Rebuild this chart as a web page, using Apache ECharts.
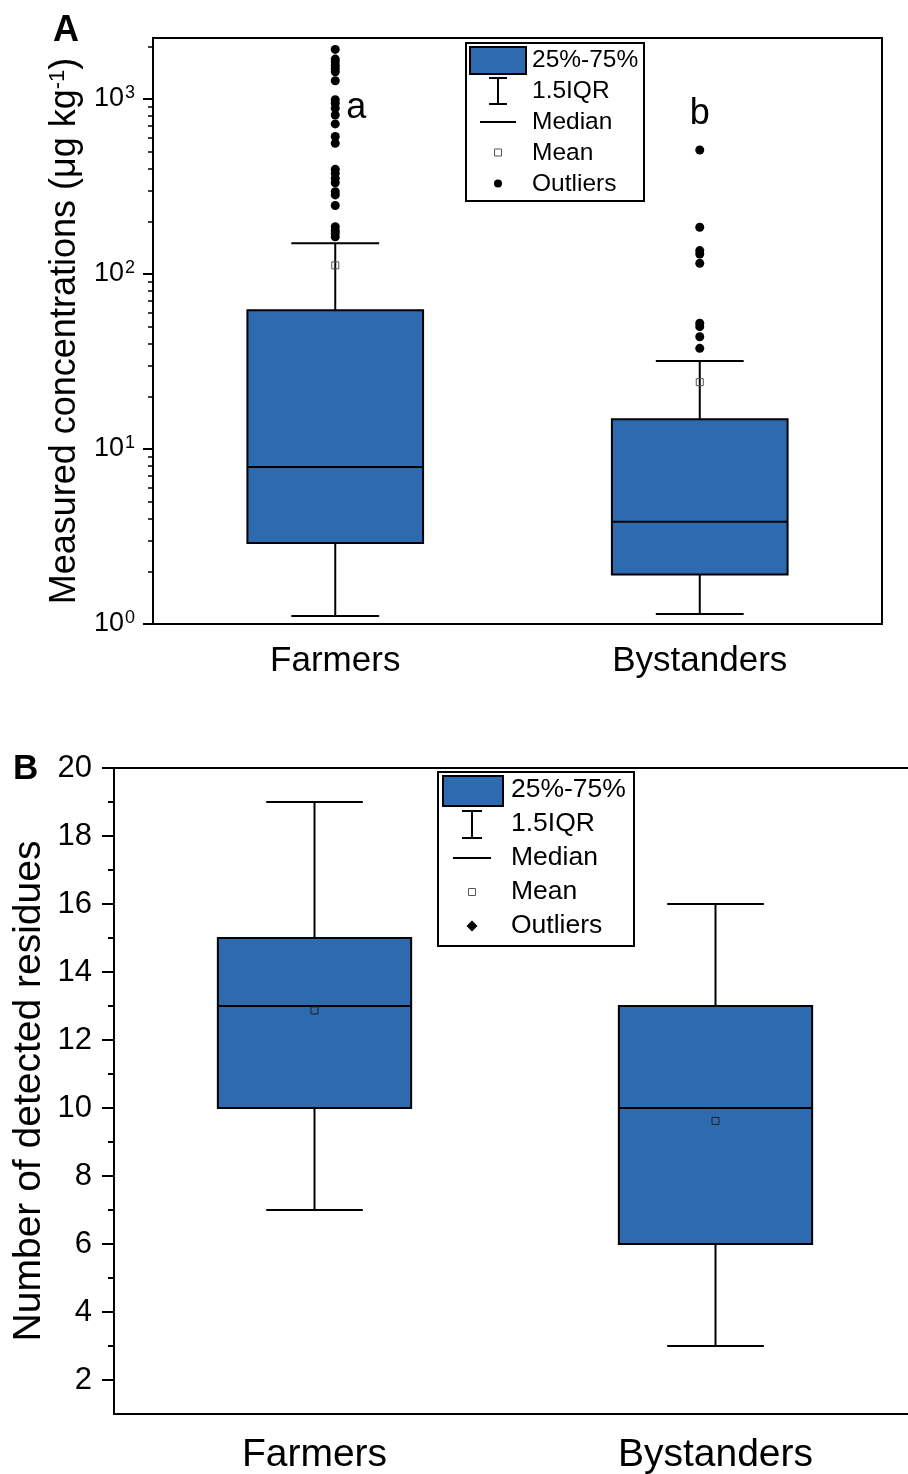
<!DOCTYPE html>
<html>
<head>
<meta charset="utf-8">
<script src="https://cdn.jsdelivr.net/npm/echarts@6/dist/echarts.min.js"></script>
<style>
html,body{margin:0;padding:0;background:#fff;}
#chart{width:908px;height:1474px;}
</style>
</head>
<body>
<div id="chart"></div>
<script>
// ---------- data ----------
const categories = ['Farmers', 'Bystanders'];

// Panel A: measured concentrations (µg kg-1), [lower whisker, Q1, median, Q3, upper whisker]
const concBoxFarmers = [1.11, 2.9, 7.9, 62, 150];
const concBoxBystanders = [1.14, 1.92, 3.84, 14.8, 31.8];
const concMeans = [112, 24.1];
const concOutliersFarmers = [1920, 1690, 1630, 1560, 1500, 1430, 1270, 990, 945, 885, 810, 720, 610, 558, 396, 376, 352, 332, 295, 283, 246, 186, 178, 171, 163];
const concOutliersBystanders = [511, 185, 136, 130, 115, 52.3, 50, 43.8, 37.6];
const concSigLetters = ['a', 'b'];
const concSigValues = [890, 815];
const concTicks = [1, 10, 100, 1000];
const concMinorTicks = [2, 3, 4, 5, 6, 7, 8, 9, 20, 30, 40, 50, 60, 70, 80, 90, 200, 300, 400, 500, 600, 700, 800, 900, 2000];

// Panel B: number of detected residues
const resBoxFarmers = [7, 10, 13, 15, 19];
const resBoxBystanders = [3, 6, 10, 13, 16];
const resMeans = [12.87, 9.62];
const resTicks = [2, 4, 6, 8, 10, 12, 14, 16, 18, 20];
const resMinorTicks = [3, 5, 7, 9, 11, 13, 15, 17, 19];

const legendLabels = ['25%-75%', '1.5IQR', 'Median', 'Mean', 'Outliers'];

// ---------- styles ----------
const FONT = '"Liberation Sans", Arial, Helvetica, sans-serif';
const BLUE = '#2D6AAF';

function boxRender(params, api) {
  const x = api.value(0);
  const lo = api.coord([x, api.value(1)]);
  const q1 = api.coord([x, api.value(2)]);
  const md = api.coord([x, api.value(3)]);
  const q3 = api.coord([x, api.value(4)]);
  const hi = api.coord([x, api.value(5)]);
  const band = api.size([1, 0], [x, api.value(3)])[0];
  const bw = band * 0.482, cw = band * 0.241;
  const cx = lo[0];
  const ls = {stroke: '#000', lineWidth: 2};
  return {
    type: 'group',
    children: [
      {type: 'line', shape: {x1: cx, y1: lo[1], x2: cx, y2: q1[1]}, style: ls},
      {type: 'line', shape: {x1: cx, y1: q3[1], x2: cx, y2: hi[1]}, style: ls},
      {type: 'line', shape: {x1: cx - cw / 2, y1: lo[1], x2: cx + cw / 2, y2: lo[1]}, style: ls},
      {type: 'line', shape: {x1: cx - cw / 2, y1: hi[1], x2: cx + cw / 2, y2: hi[1]}, style: ls},
      {type: 'rect', shape: {x: cx - bw / 2, y: q3[1], width: bw, height: q1[1] - q3[1]},
        style: {fill: BLUE, stroke: '#000', lineWidth: 2}},
      {type: 'line', shape: {x1: cx - bw / 2, y1: md[1], x2: cx + bw / 2, y2: md[1]}, style: ls}
    ]
  };
}

function boxData(a, b) {
  return [[0].concat(a), [1].concat(b)];
}

const concOutlierData = concOutliersFarmers.map(v => [0, v]).concat(concOutliersBystanders.map(v => [1, v]));

function legendGraphic(o) {
  const els = [];
  els.push({type: 'rect', shape: o.frame, style: {fill: '#fff', stroke: '#000', lineWidth: 2}, z: 50});
  els.push({type: 'rect', shape: o.swatch, style: {fill: BLUE, stroke: '#000', lineWidth: 2}, z: 51});
  const ib = o.ibeam;
  els.push({type: 'polyline', shape: {points: [[ib.cx - ib.w / 2, ib.y1], [ib.cx + ib.w / 2, ib.y1]]}, style: {stroke: '#000', lineWidth: 2}, z: 51});
  els.push({type: 'polyline', shape: {points: [[ib.cx, ib.y1], [ib.cx, ib.y2]]}, style: {stroke: '#000', lineWidth: 2}, z: 51});
  els.push({type: 'polyline', shape: {points: [[ib.cx - ib.w / 2, ib.y2], [ib.cx + ib.w / 2, ib.y2]]}, style: {stroke: '#000', lineWidth: 2}, z: 51});
  els.push({type: 'polyline', shape: {points: [[o.median.x1, o.median.y], [o.median.x2, o.median.y]]}, style: {stroke: '#000', lineWidth: 2}, z: 51});
  els.push({type: 'rect', shape: {x: o.mean.cx - 3.5, y: o.mean.cy - 3.5, width: 7, height: 7}, style: {fill: 'none', stroke: '#555', lineWidth: 1}, z: 51});
  if (o.diamond) {
    const c = o.outlier, r = 5.5;
    els.push({type: 'polygon', shape: {points: [[c.cx, c.cy - r], [c.cx + r, c.cy], [c.cx, c.cy + r], [c.cx - r, c.cy]]}, style: {fill: '#000'}, z: 51});
  } else {
    els.push({type: 'circle', shape: {cx: o.outlier.cx, cy: o.outlier.cy, r: 4}, style: {fill: '#000'}, z: 51});
  }
  legendLabels.forEach((t, i) => {
    els.push({type: 'text', x: o.textX, y: o.rows[i], z: 52,
      style: {text: t, fill: '#000', font: o.font, verticalAlign: 'middle', align: 'left'}});
  });
  return els;
}

const legendA = legendGraphic({
  frame: {x: 466, y: 43, width: 178, height: 158},
  swatch: {x: 470, y: 47, width: 56, height: 27},
  ibeam: {cx: 498, w: 18, y1: 78, y2: 104},
  median: {x1: 480, x2: 516, y: 122},
  mean: {cx: 498, cy: 152.5},
  outlier: {cx: 498, cy: 183.5},
  textX: 532, rows: [60, 91, 122, 153, 184],
  font: '24.5px ' + FONT, diamond: false
});
const legendB = legendGraphic({
  frame: {x: 438, y: 772, width: 196, height: 174},
  swatch: {x: 443, y: 776, width: 60, height: 30},
  ibeam: {cx: 472, w: 20, y1: 811, y2: 838},
  median: {x1: 453, x2: 491, y: 858},
  mean: {cx: 472, cy: 892},
  outlier: {cx: 472, cy: 926},
  textX: 511, rows: [790, 824, 858, 892, 926],
  font: '26.5px ' + FONT, diamond: true
});

const chart = echarts.init(document.getElementById('chart'), null, {renderer: 'canvas'});

const option = {
  backgroundColor: '#fff',
  animation: false,
  textStyle: {fontFamily: FONT, color: '#000'},
  title: [
    {text: 'A', left: 53, top: 13, padding: 0, textStyle: {fontSize: 36, fontWeight: 'bold', color: '#000', fontFamily: FONT}},
    {text: 'B', left: 13, top: 752, padding: 0, textStyle: {fontSize: 35, fontWeight: 'bold', color: '#000', fontFamily: FONT}}
  ],
  grid: [
    {left: 153, top: 38, width: 729, height: 586, show: true, borderColor: '#000', borderWidth: 2,
      backgroundColor: 'transparent', containLabel: false, outerBoundsMode: 'none'},
    {left: 114, top: 768, width: 802, height: 646, show: true, borderColor: '#000', borderWidth: 2,
      backgroundColor: 'transparent', containLabel: false, outerBoundsMode: 'none'}
  ],
  xAxis: [
    {gridIndex: 0, type: 'category', data: categories, boundaryGap: true,
      axisLine: {lineStyle: {color: '#000', width: 2}},
      axisTick: {alignWithLabel: true, length: 11, lineStyle: {color: '#000', width: 2}},
      axisLabel: {fontSize: 35, color: '#000', fontFamily: FONT, margin: 20},
      splitLine: {show: false}},
    {gridIndex: 1, type: 'category', data: categories, boundaryGap: true,
      axisLine: {lineStyle: {color: '#000', width: 2}},
      axisTick: {alignWithLabel: true, length: 13, lineStyle: {color: '#000', width: 2}},
      axisLabel: {fontSize: 39, color: '#000', fontFamily: FONT, margin: 22},
      splitLine: {show: false}}
  ],
  yAxis: [
    {gridIndex: 0, type: 'log', logBase: 10, min: 1, max: 2230, position: 'left',
      name: 'Measured concentrations (μg kg{s|-1})', nameLocation: 'middle', nameGap: 70, nameMoveOverlap: false,
      nameTextStyle: {fontSize: 36, color: '#000', fontFamily: FONT,
        rich: {s: {fontSize: 22, verticalAlign: 'top', color: '#000', fontFamily: FONT}}},
      axisLine: {show: true, lineStyle: {color: '#000', width: 2}},
      axisTick: {show: true, length: 10, customValues: concTicks, lineStyle: {color: '#000', width: 2}},
      axisLabel: {customValues: concTicks, margin: 18, color: '#000', fontFamily: FONT,
        formatter: function (v) { return '{b|10}{s|' + Math.round(Math.log10(v)) + '}'; },
        rich: {
          b: {fontSize: 27, lineHeight: 27, verticalAlign: 'bottom', color: '#000', fontFamily: FONT},
          s: {fontSize: 18, lineHeight: 18, verticalAlign: 'bottom', padding: [0, 0, 10, 1], color: '#000', fontFamily: FONT}
        }},
      splitLine: {show: false}},
    {gridIndex: 0, type: 'log', logBase: 10, min: 1, max: 2230, position: 'left',
      axisLine: {show: false},
      axisTick: {show: true, length: 5, customValues: concMinorTicks, lineStyle: {color: '#000', width: 1.5}},
      axisLabel: {show: false}, splitLine: {show: false}},
    {gridIndex: 1, type: 'value', min: 1, max: 20, interval: 1, position: 'left',
      name: 'Number of detected residues', nameLocation: 'middle', nameGap: 65, nameMoveOverlap: false,
      nameTextStyle: {fontSize: 39, color: '#000', fontFamily: FONT},
      axisLine: {show: true, lineStyle: {color: '#000', width: 2}},
      axisTick: {show: true, length: 12, customValues: resTicks, lineStyle: {color: '#000', width: 2}},
      axisLabel: {customValues: resTicks, margin: 22, fontSize: 31, color: '#000', fontFamily: FONT},
      splitLine: {show: false}},
    {gridIndex: 1, type: 'value', min: 1, max: 20, interval: 1, position: 'left',
      axisLine: {show: false},
      axisTick: {show: true, length: 6, customValues: resMinorTicks, lineStyle: {color: '#000', width: 2}},
      axisLabel: {show: false}, splitLine: {show: false}}
  ],
  graphic: legendA.concat(legendB),
  series: [
    {type: 'custom', name: '25%-75%', xAxisIndex: 0, yAxisIndex: 0, renderItem: boxRender,
      encode: {x: 0, y: [1, 2, 3, 4, 5]}, data: boxData(concBoxFarmers, concBoxBystanders), z: 2},
    {type: 'scatter', name: 'Mean', xAxisIndex: 0, yAxisIndex: 0, symbol: 'rect', symbolSize: 7,
      itemStyle: {color: 'transparent', borderColor: '#555', borderWidth: 1, opacity: 1},
      data: concMeans.map((v, i) => [i, v]), z: 5},
    {type: 'scatter', name: 'Outliers', xAxisIndex: 0, yAxisIndex: 0, symbol: 'circle', symbolSize: 9,
      itemStyle: {color: '#000', opacity: 1}, data: concOutlierData, z: 5},
    {type: 'scatter', name: 'letters', xAxisIndex: 0, yAxisIndex: 0, symbolSize: 0, silent: true,
      itemStyle: {color: '#000', opacity: 1},
      label: {show: true, fontSize: 36, color: '#000', fontFamily: FONT, opacity: 1,
        formatter: function (p) { return concSigLetters[p.dataIndex]; }},
      data: [
        {value: [0, concSigValues[0]], label: {position: 'right', distance: 11}},
        {value: [1, concSigValues[1]], label: {position: 'inside', textBorderWidth: 0}}
      ], z: 5},
    {type: 'custom', name: '25%-75% B', xAxisIndex: 1, yAxisIndex: 2, renderItem: boxRender,
      encode: {x: 0, y: [1, 2, 3, 4, 5]}, data: boxData(resBoxFarmers, resBoxBystanders), z: 2},
    {type: 'scatter', name: 'Mean B', xAxisIndex: 1, yAxisIndex: 2, symbol: 'rect', symbolSize: 7,
      itemStyle: {color: 'transparent', borderColor: '#222', borderWidth: 1, opacity: 1},
      data: resMeans.map((v, i) => [i, v]), z: 5}
  ]
};
chart.setOption(option);
</script>
</body>
</html>
